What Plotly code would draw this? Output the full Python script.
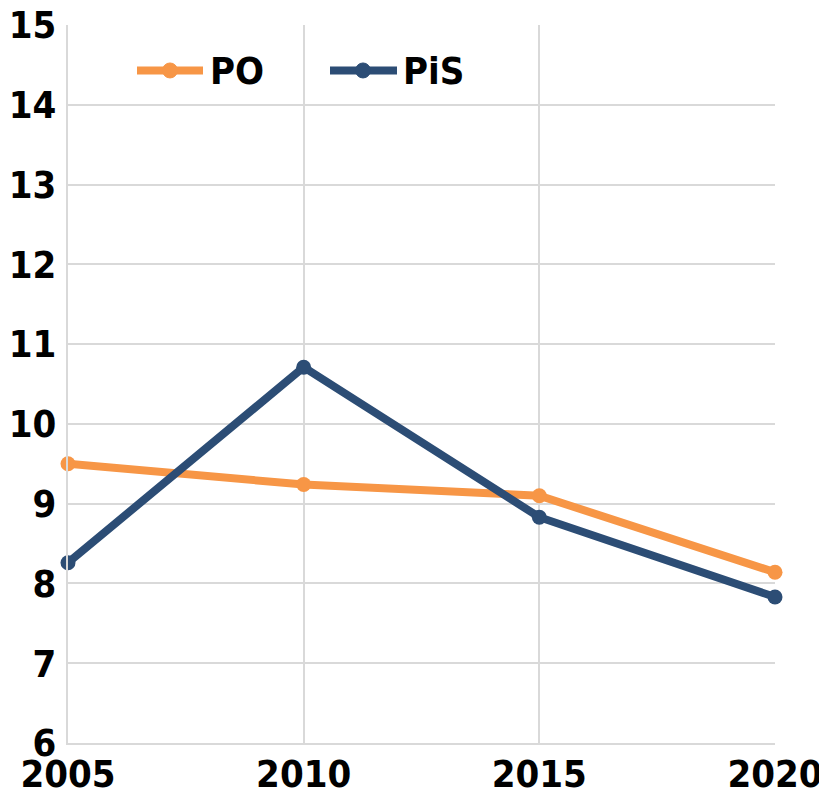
import plotly.graph_objects as go

years = [2005, 2010, 2015, 2020]
po_values = [9.5, 9.24, 9.1, 8.14]
pis_values = [8.26, 10.71, 8.83, 7.83]
series_names = ["PO", "PiS"]
y_ticks = [6, 7, 8, 9, 10, 11, 12, 13, 14, 15]

FONT = "DejaVu Sans Condensed, DejaVu Sans, sans-serif"
ORANGE = "#F79646"
NAVY = "#2C4D75"
GRID = "#D9D9D9"
FS = 38

# page body has an 8px margin; figure is shrunk so that the plot area lands
# at x 68..775, y 24.5..743 of the window
OFF = 8
PW, PH = 707.0, 718.5
def px(x):
    return (x - 68) / PW
def py(y):
    return (743 - y) / PH

fig = go.Figure()
colors = [ORANGE, NAVY]
for name, vals, col in zip(series_names, [po_values, pis_values], colors):
    fig.add_trace(go.Scatter(
        x=years, y=vals, name=name, mode="lines+markers",
        line=dict(color=col, width=8), marker=dict(color=col, size=15),
        cliponaxis=False, showlegend=False,
    ))

shapes = []
annotations = []
legend_pos = [(137, 203, 170, 208), (330, 397, 363, 401)]
for name, col, (lx0, lx1, mx, tx) in zip(series_names, colors, legend_pos):
    ly = 70
    shapes.append(dict(type="line", xref="paper", yref="paper",
                       x0=px(lx0), x1=px(lx1), y0=py(ly), y1=py(ly),
                       line=dict(color=col, width=8)))
    r = 7.5
    shapes.append(dict(type="circle", xref="paper", yref="paper",
                       x0=px(mx - r), x1=px(mx + r), y0=py(ly + r), y1=py(ly - r),
                       fillcolor=col, line=dict(color=col, width=1)))
    annotations.append(dict(text=name, xref="paper", yref="paper",
                            x=px(tx), y=py(ly + 1), xanchor="left", yanchor="middle",
                            showarrow=False,
                            font=dict(family=FONT, size=FS, color="black", weight="bold")))

shapes.append(dict(
    type="rect", xref="paper", yref="paper",
    x0=px(822), x1=px(830), y0=py(800), y1=py(308),
    fillcolor="#EEF5E8", line=dict(width=0), layer="below",
))

fig.update_layout(
    width=827 - OFF, height=794 - OFF,
    margin=dict(l=68 - OFF, r=52, t=24.5 - OFF, b=51, autoexpand=False),
    paper_bgcolor="white", plot_bgcolor="white",
    font=dict(family=FONT, size=FS, color="black", weight="bold"),
    showlegend=False,
    xaxis=dict(
        range=[2005, 2020], tickmode="array", tickvals=years,
        ticktext=[str(y) for y in years], automargin=False,
        showgrid=True, gridcolor=GRID, gridwidth=2,
        showline=True, linecolor=GRID, linewidth=2,
        zeroline=False, ticks="", ticklabelstandoff=-4,
        ticklabeloverflow="allow",
        tickfont=dict(family=FONT, size=FS, color="black", weight="bold"),
    ),
    yaxis=dict(
        range=[6, 15], tickmode="array", tickvals=y_ticks,
        ticktext=[str(v) for v in y_ticks], automargin=False,
        showgrid=True, gridcolor=GRID, gridwidth=2,
        showline=True, linecolor=GRID, linewidth=2,
        zeroline=False, ticks="", ticklabelstandoff=2,
        ticklabeloverflow="allow",
        tickfont=dict(family=FONT, size=FS, color="black", weight="bold"),
    ),
    shapes=shapes,
    annotations=annotations,
)

fig.write_html("out.html")
